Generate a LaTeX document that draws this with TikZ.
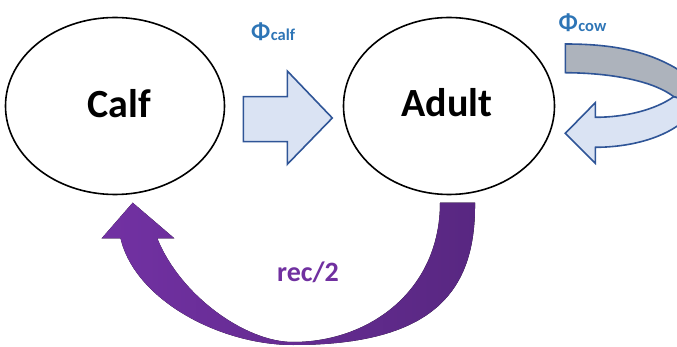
\documentclass[tikz,border=0pt]{standalone}
\usepackage{fontspec}
\setmainfont{Carlito}
\usetikzlibrary{shapes.geometric}
\definecolor{arrowfill}{HTML}{DAE3F3}
\definecolor{arrowedge}{HTML}{2F5597}
\definecolor{loopgrey}{HTML}{ADB3BC}
\definecolor{labelblue}{HTML}{2E75B6}
\definecolor{purpleL}{HTML}{7231A3}
\definecolor{purpleR}{HTML}{582781}
\definecolor{recpurple}{HTML}{7030A0}
\tikzset{
  stage/.style={ellipse, draw=black, line width=1.6pt, inner sep=0pt},
  stagetext/.style={font=\bfseries\fontsize{40}{40}\selectfont, anchor=base, inner sep=0pt},
  blockarrow/.style={draw=arrowedge, fill=arrowfill, line width=1.6pt, line join=miter},
  phitext/.style={font=\bfseries\fontsize{24}{24}\selectfont, text=labelblue, anchor=base west, inner sep=0pt},
  subtext/.style={font=\bfseries\fontsize{16.5}{16.5}\selectfont, text=labelblue, anchor=base west, inner sep=0pt},
}
\begin{document}
\begin{tikzpicture}[x=1pt,y=-1pt]
\useasboundingbox (0,0) rectangle (677,347);
% stages
\node[stage, minimum width=219pt, minimum height=177pt] (calf) at (115,106) {};
\node[stage, minimum width=211pt, minimum height=177pt] (adult) at (449,106) {};
\node[stagetext] (calftext) at (119.5,118) {Calf};
\node[stagetext] (adulttext) at (447,117) {Adult};
% calf -> adult block arrow
\draw[blockarrow] (243.3,96.7) -- (287.3,96.7) -- (287.3,71) -- (332.3,118) -- (287.3,164.3) -- (287.3,141.7) -- (243.3,141.7) -- cycle;
% labels
\node[phitext] (phicalf) at (251,39.5) {Φ};
\node[subtext] (subcalf) at ([yshift=-1pt]phicalf.base east) {calf};
\node[phitext] (phicow) at (558.5,31) {Φ};
\node[subtext] (subcow) at ([yshift=-1pt]phicow.base east) {cow};
% self loop on adult
\begin{scope}
\clip (0,0) rectangle (677,347);
\draw[blockarrow, fill=loopgrey] (565.3,44) .. controls (610,44) and (650,50) .. (685,74) -- (685,100) -- (673.7,96.7) .. controls (655,82) and (615,73) .. (565.3,72.7) -- cycle;
\draw[blockarrow] (673.7,96.7) .. controls (655,110) and (625,117.3) .. (595.3,117.3) -- (595.3,102.7) -- (565.3,133.3) -- (595.3,163.3) -- (595.3,147.3) .. controls (630,147.3) and (665,138) .. (685,120) -- (685,100) -- cycle;
\end{scope}
% purple curved arrow adult -> calf
\fill[left color=purpleL, right color=purpleR]
  (475,202.7) .. controls (476,290) and (435,345) .. (293,345)
  .. controls (220,345) and (135,300) .. (120.5,238.3)
  -- (101.7,238.3) -- (132.7,202.7) -- (174.3,238.3) -- (157.3,238.3)
  .. controls (180,295) and (245,342) .. (293,342)
  .. controls (370,342) and (440,290) .. (440,202.7) -- cycle;
\node[font=\bfseries\fontsize{28}{28}\selectfont, text=recpurple, anchor=base, inner sep=0pt] (rec) at (308,281.7) {rec/2};
\end{tikzpicture}
\end{document}
